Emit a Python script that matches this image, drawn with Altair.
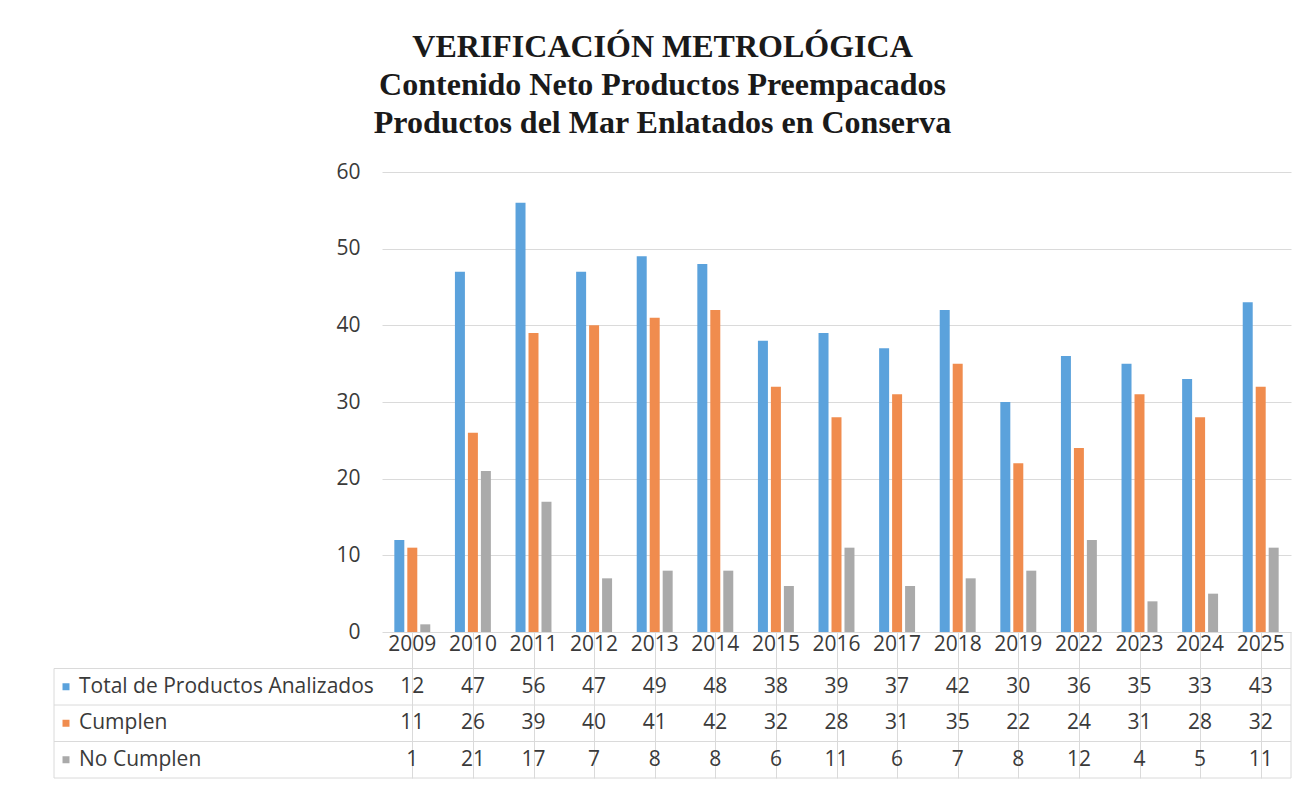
import altair as alt
import pandas as pd

years = ["2009", "2010", "2011", "2012", "2013", "2014", "2015", "2016",
         "2017", "2018", "2019", "2022", "2023", "2024", "2025"]
total = [12, 47, 56, 47, 49, 48, 38, 39, 37, 42, 30, 36, 35, 33, 43]
cumplen = [11, 26, 39, 40, 41, 42, 32, 28, 31, 35, 22, 24, 31, 28, 32]
no_cumplen = [1, 21, 17, 7, 8, 8, 6, 11, 6, 7, 8, 12, 4, 5, 11]
series = ["Total de Productos Analizados", "Cumplen", "No Cumplen"]
colors = ["#5BA2DC", "#F08C4E", "#AAAAAA"]
title_lines = ["VERIFICACIÓN METROLÓGICA",
               "Contenido Neto Productos Preempacados",
               "Productos del Mar Enlatados en Conserva"]
y_ticks = [0, 10, 20, 30, 40, 50, 60]

rows = []
for s, vals in zip(series, [total, cumplen, no_cumplen]):
    for yr, v in zip(years, vals):
        rows.append({"year": yr, "series": s, "value": v})
df = pd.DataFrame(rows)

HEADER = "__year__"
row_domain = [HEADER] + series
header_df = pd.DataFrame({"year": years, "row": HEADER, "text": years})
values_df = pd.DataFrame([{"year": r["year"], "row": r["series"], "text": str(r["value"])}
                          for r in rows])
labels_df = pd.DataFrame({"row": series})
lines_df = pd.DataFrame({"row": row_domain})

W = 909
H_TABLE = 146
FONT = "Open Sans"
TXT = "#3a3a3a"
GRID = "#DADADA"

xscale = alt.Scale(domain=years, paddingInner=0, paddingOuter=0)
color_scale = alt.Scale(domain=series, range=colors)
row_scale = alt.Scale(domain=row_domain, paddingInner=0, paddingOuter=0)

bars = alt.Chart(df).mark_bar().encode(
    x=alt.X("year:N", scale=xscale, axis=None, sort=years),
    xOffset=alt.XOffset("series:N", sort=series,
                        scale=alt.Scale(domain=series, paddingInner=0.23, paddingOuter=0.95)),
    y=alt.Y("value:Q", scale=alt.Scale(domain=[0, 60]),
            axis=alt.Axis(values=y_ticks, grid=True, gridColor=GRID, domain=False,
                          ticks=False, labelPadding=22, labelFontSize=21,
                          labelColor=TXT, labelFont=FONT, title=None)),
    color=alt.Color("series:N", scale=color_scale, legend=None),
).properties(width=W, height=460)

xenc = alt.X("year:N", scale=xscale, sort=years,
             axis=alt.Axis(grid=True, bandPosition=0, gridColor=GRID, labels=False,
                           ticks=False, domain=False, title=None))
yenc = alt.Y("row:N", scale=row_scale, axis=None)

header = alt.Chart(header_df).mark_text(font=FONT, fontSize=21, color=TXT, dy=-5).encode(
    x=xenc, y=yenc, text="text:N")
cells = alt.Chart(values_df).mark_text(font=FONT, fontSize=21, color=TXT).encode(
    x=xenc, y=yenc, text="text:N")

hlines = alt.Chart(lines_df).mark_rule(color=GRID).encode(
    y=alt.Y("row:N", scale=row_scale, bandPosition=1, axis=None),
    x=alt.value(-328),
    x2=alt.value(W),
)

borders = alt.Chart(pd.DataFrame({"row": [series[0]]})).mark_rule(color=GRID).encode(
    x=alt.value(-328), y=alt.value(H_TABLE / 4), y2=alt.value(H_TABLE)
) + alt.Chart(pd.DataFrame({"row": [series[0]]})).mark_rule(color=GRID).encode(
    x=alt.value(W), y=alt.value(0), y2=alt.value(H_TABLE)
)

swatches = alt.Chart(labels_df).mark_square(size=49, opacity=1).encode(
    x=alt.value(-316),
    y=yenc,
    color=alt.Color("row:N", scale=color_scale, legend=None),
)

row_labels = alt.Chart(labels_df).mark_text(
    font=FONT, fontSize=21, color=TXT, align="left"
).encode(
    x=alt.value(-303),
    y=yenc,
    text="row:N",
)

table = alt.layer(hlines, borders, header, cells, swatches, row_labels).properties(
    width=W, height=H_TABLE
)

chart = alt.vconcat(bars, table, spacing=0, bounds="flush").properties(
    title=alt.Title(title_lines, font="Liberation Serif", fontSize=32,
                    fontWeight="bold", color="#1a1a1a", anchor="middle",
                    lineHeight=38, offset=21, dx=-10),
    padding={"left": 45, "top": 23, "right": 10, "bottom": 5},
).configure_view(stroke=None)

chart.save("out.html", embed_options={"renderer": "svg", "actions": False})
